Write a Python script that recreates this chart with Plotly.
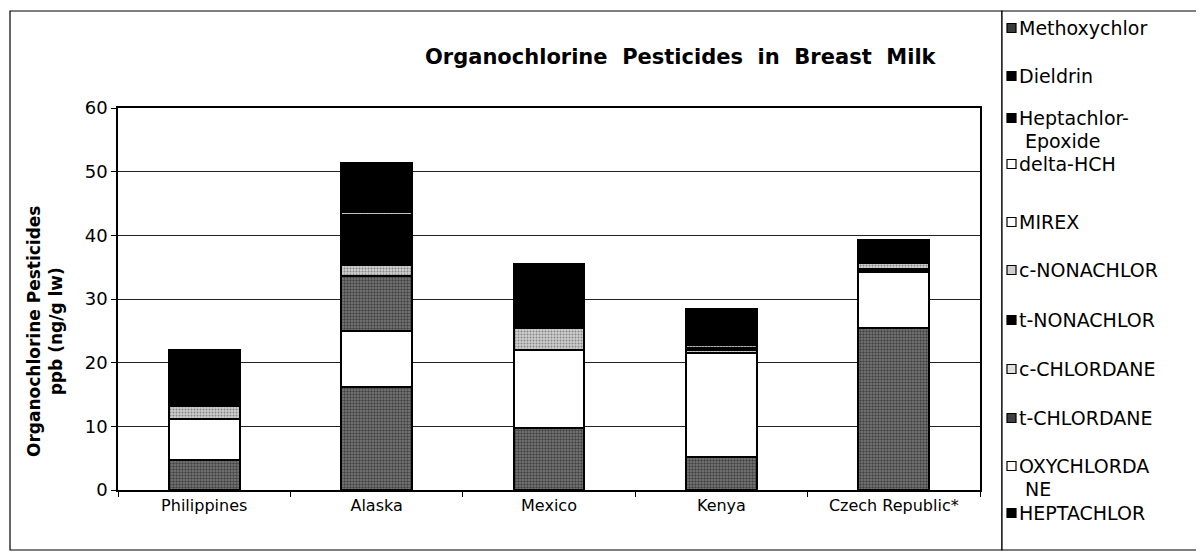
import plotly.graph_objects as go

# ---------------- data ----------------
countries = ["Philippines", "Alaska", "Mexico", "Kenya", "Czech Republic*"]

series_names = ["HEPTACHLOR", "OXYCHLORDANE", "t-CHLORDANE", "c-CHLORDANE",
                "t-NONACHLOR", "c-NONACHLOR", "MIREX", "delta-HCH",
                "Heptachlor-Epoxide", "Dieldrin", "Methoxychlor"]

heptachlor = [4.7, 16.2, 9.7, 5.2, 25.4]
oxychlordane = [6.4, 8.8, 12.3, 16.3, 8.8]
t_chlordane = [0.0, 8.6, 0.0, 0.0, 0.0]
c_chlordane = [2.1, 1.7, 3.4, 0.5, 0.3]
t_nonachlor = [6.7, 7.9, 5.4, 0.3, 0.2]
c_nonachlor = [0.3, 0.5, 0.3, 0.4, 0.9]
mirex = [0.0, 0.0, 0.0, 0.0, 0.0]
delta_hch = [0.0, 0.0, 0.0, 0.0, 0.0]
heptachlor_epoxide = [1.8, 7.7, 4.4, 5.8, 3.6]
dieldrin = [0.0, 0.0, 0.0, 0.0, 0.0]
methoxychlor = [0.0, 0.0, 0.0, 0.0, 0.0]

values = [heptachlor, oxychlordane, t_chlordane, c_chlordane, t_nonachlor,
          c_nonachlor, mirex, delta_hch, heptachlor_epoxide, dieldrin, methoxychlor]

y_ticks = [0, 10, 20, 30, 40, 50, 60]

title_text = "Organochlorine&nbsp;&nbsp;Pesticides&nbsp;&nbsp;in&nbsp;&nbsp;Breast&nbsp;&nbsp;Milk"
y_title = "Organochlorine Pesticides<br>ppb (ng/g lw)"

# ---------------- styles ----------------
DARK = dict(shape=".", fgcolor="#0a0a0a", bgcolor="#7c7c7c", size=3, solidity=0.5)
LIGHT = dict(shape=".", fgcolor="#3a3a3a", bgcolor="#cfcfcf", size=3, solidity=0.35)
styles = {
    "HEPTACHLOR": ("#7c7c7c", DARK),
    "OXYCHLORDANE": ("white", None),
    "t-CHLORDANE": ("#7c7c7c", DARK),
    "c-CHLORDANE": ("#cfcfcf", LIGHT),
    "t-NONACHLOR": ("black", None),
    "c-NONACHLOR": ("#cfcfcf", LIGHT),
    "MIREX": ("white", None),
    "delta-HCH": ("white", None),
    "Heptachlor-Epoxide": ("black", None),
    "Dieldrin": ("black", None),
    "Methoxychlor": ("#7c7c7c", DARK),
}
legend_swatch = {
    "Methoxychlor": "#3a3a3a", "Dieldrin": "black", "Heptachlor-Epoxide": "black",
    "delta-HCH": "white", "MIREX": "white", "c-NONACHLOR": "#cfcfcf",
    "t-NONACHLOR": "black", "c-CHLORDANE": "#e0e0e0", "t-CHLORDANE": "#404040",
    "OXYCHLORDANE": "white", "HEPTACHLOR": "black",
}

FONT = "DejaVu Sans"

fig = go.Figure()
for name, vals in zip(series_names, values):
    color, pat = styles[name]
    marker = dict(color=color, line=dict(color="black", width=2))
    if pat is not None:
        marker["pattern"] = pat
    fig.add_trace(go.Bar(x=countries, y=vals, name=name, marker=marker,
                         width=0.41, showlegend=False))

# page has an 8px body margin, so the figure is 8px smaller than the window
W, H = 1196, 547
L, R, T, B = 118, 980, 108, 490   # plot area in window (reference) pixels
OFF = 8


def px(xp):
    return (xp - L) / (R - L)


def py(yp):
    return (B - yp) / (B - T)


shapes = []
annotations = []

# outer chart frame and legend frame
shapes.append(dict(type="rect", xref="paper", yref="paper",
                   x0=px(10), x1=px(1002), y0=py(550), y1=py(11),
                   line=dict(color="black", width=1.2), fillcolor="rgba(0,0,0,0)", layer="below"))
shapes.append(dict(type="rect", xref="paper", yref="paper",
                   x0=px(1002), x1=px(1199), y0=py(550), y1=py(11),
                   line=dict(color="black", width=1.2), fillcolor="white"))

# manual legend (Excel style order: top series first)
# (series key, list of (text line, y centre), swatch y)
legend_rows = [
    ("Methoxychlor", [("Methoxychlor", 28)], 28),
    ("Dieldrin", [("Dieldrin", 76)], 76),
    ("Heptachlor-Epoxide", [("Heptachlor-", 118), (" Epoxide", 141)], 118),
    ("delta-HCH", [("delta-HCH", 164)], 164),
    ("MIREX", [("MIREX", 222)], 222),
    ("c-NONACHLOR", [("c-NONACHLOR", 270)], 270),
    ("t-NONACHLOR", [("t-NONACHLOR", 320)], 320),
    ("c-CHLORDANE", [("c-CHLORDANE", 369)], 369),
    ("t-CHLORDANE", [("t-CHLORDANE", 418)], 418),
    ("OXYCHLORDANE", [("OXYCHLORDA", 466), (" NE", 489)], 466),
    ("HEPTACHLOR", [("HEPTACHLOR", 513)], 513),
]
for key, lines, sy in legend_rows:
    shapes.append(dict(type="rect", xref="paper", yref="paper",
                       x0=px(1007), x1=px(1016), y0=py(sy + 4.5), y1=py(sy - 4.5),
                       line=dict(color="black", width=1.2),
                       fillcolor=legend_swatch[key]))
    for txt, yc in lines:
        annotations.append(dict(xref="paper", yref="paper", x=px(1017), y=py(yc),
                                text=txt.replace(" ", "&nbsp;"), showarrow=False,
                                xanchor="left", yanchor="middle", align="left",
                                font=dict(family=FONT, size=19, color="black")))

# title
annotations.append(dict(xref="paper", yref="paper", x=px(681), y=py(57),
                        text="<b>" + title_text + "</b>", showarrow=False,
                        xanchor="center", yanchor="middle",
                        font=dict(family=FONT, size=21, color="black")))
# y axis title
annotations.append(dict(xref="paper", yref="paper", x=px(45), y=py(331),
                        text="<b>" + y_title + "</b>", showarrow=False, textangle=-90,
                        xanchor="center", yanchor="middle",
                        font=dict(family=FONT, size=17, color="black")))

fig.update_layout(
    width=W, height=H,
    margin=dict(l=L - OFF, r=W - (R - OFF), t=T - OFF, b=H - (B - OFF), pad=0),
    paper_bgcolor="white", plot_bgcolor="white",
    barmode="stack",
    shapes=shapes,
    annotations=annotations,
    font=dict(family=FONT, color="black"),
)
fig.update_yaxes(range=[0, 60], tickvals=y_ticks, showgrid=True, gridcolor="#222",
                 gridwidth=1.3, showline=True, linecolor="black", linewidth=1.5,
                 mirror=True, ticks="outside", ticklen=5, tickcolor="black",
                 tickfont=dict(family=FONT, size=18, color="black"), zeroline=False)
fig.update_xaxes(showline=True, linecolor="black", linewidth=1.5, mirror=True,
                 ticks="outside", ticklen=5, tickcolor="black", tickson="boundaries",
                 tickfont=dict(family=FONT, size=16, color="black"))

fig.write_html("out.html")
